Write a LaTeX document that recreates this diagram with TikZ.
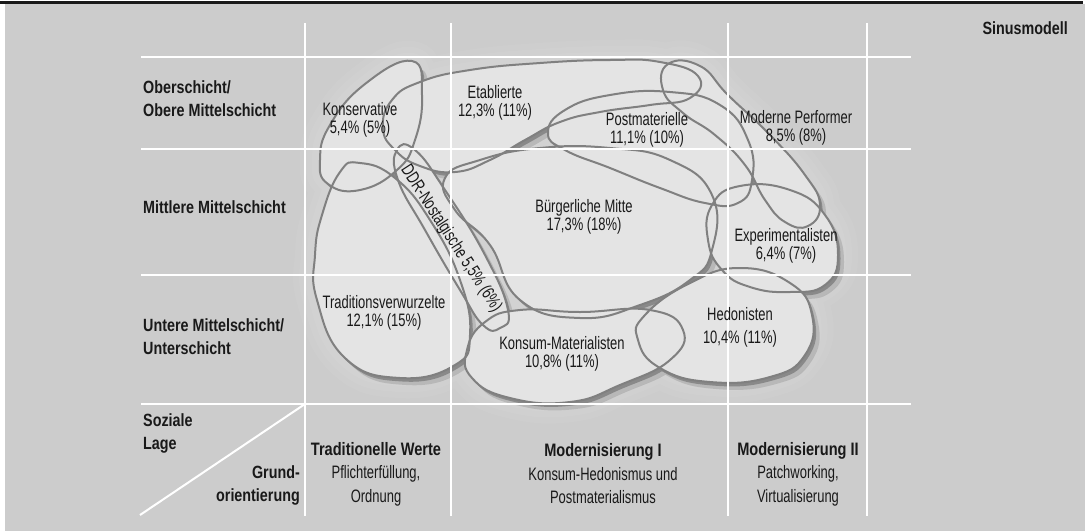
\documentclass[tikz,border=0pt]{standalone}
\usepackage{fontspec}
\setmainfont{Liberation Sans}[FakeStretch=0.72]
\newfontfamily\headfont{Liberation Sans}[FakeStretch=0.81]
\usepackage{xcolor}
\usetikzlibrary{positioning, calc}

\definecolor{bggray}{gray}{0.80}
\definecolor{blobfill}{gray}{0.895}
\definecolor{blobline}{gray}{0.50}
\definecolor{inkgray}{gray}{0.1}

% milieu outlines (pixel coordinates, y downwards)
\newcommand{\shapeKons}{plot[smooth cycle, tension=0.8] coordinates {(412,61) (422,95) (415,140) (397,170) (360,190) (328,184) (320,160) (330,125) (365,84)}}
\newcommand{\shapeEtab}{plot[smooth cycle, tension=0.8] coordinates {(383,128) (392,100) (420,82) (470,70) (540,63) (610,60) (660,62) (698,76) (690,98) (650,105) (600,112) (560,122) (525,140) (490,160) (455,172) (420,166) (395,150)}}
\newcommand{\shapePost}{plot[smooth cycle, tension=0.8] coordinates {(548,133) (565,110) (610,95) (670,92) (720,105) (748,140) (752,180) (738,203) (705,203) (660,188) (610,168) (565,150)}}
\newcommand{\shapePerf}{plot[smooth cycle, tension=0.8] coordinates {(668,64) (700,66) (728,95) (770,135) (805,175) (820,205) (808,226) (785,222) (765,200) (745,165) (715,135) (683,113) (663,90)}}
\newcommand{\shapeBuerg}{plot[smooth cycle, tension=0.8] coordinates {(445,178) (480,160) (540,148) (610,148) (670,160) (712,195) (712,250) (690,280) (640,305) (580,318) (520,300) (490,245) (455,210)}}
\newcommand{\shapeExp}{plot[smooth cycle, tension=0.8] coordinates {(712,205) (740,186) (790,190) (825,215) (838,255) (825,285) (790,292) (750,287) (722,270) (708,240)}}
\newcommand{\shapeHed}{plot[smooth cycle, tension=0.8] coordinates {(645,315) (690,283) (740,268) (790,283) (812,315) (805,355) (770,377) (710,382) (660,368) (638,340)}}
\newcommand{\shapeKonsum}{plot[smooth cycle, tension=0.8] coordinates {(467,350) (485,322) (520,310) (580,312) (650,310) (683,330) (670,360) (620,385) (570,402) (510,398) (472,378)}}
\newcommand{\shapeTrad}{plot[smooth cycle, tension=0.8] coordinates {(322,215) (340,172) (360,163) (395,178) (430,220) (460,280) (470,335) (455,365) (400,378) (345,358) (317,300) (315,255)}}
\newcommand{\shapeDDR}{plot[smooth cycle, tension=0.8] coordinates {(397,150) (415,150) (445,190) (485,255) (508,310) (500,328) (483,325) (460,290) (425,230) (398,180)}}
\newcommand{\allshapes}{\shapeTrad,\shapeKons,\shapeEtab,\shapePost,\shapePerf,\shapeBuerg,\shapeExp,\shapeHed,\shapeKonsum,\shapeDDR}

\begin{document}
\begin{tikzpicture}[x=1pt, y=-1pt,
    grid/.style={white, line width=2pt},
    blob/.style={fill=blobfill},
    rim/.style={draw=blobline, line width=2pt},
    head/.style={font=\headfont\bfseries\fontsize{17.7}{23}\selectfont, text=inkgray, inner sep=0pt, align=left},
    milieu/.style={font=\fontsize{18}{18}\selectfont, text=inkgray, inner sep=0pt, align=center},
    axis/.style={font=\fontsize{18}{23.5}\selectfont, text=inkgray, inner sep=0pt, align=center}]

    \useasboundingbox (0,0) rectangle (1085,531);

    % Background panel with black rule on top
    \fill[white] (0,0) rectangle (1085,531);
    \fill[bggray] (5,4) rectangle (1085,531);
    \fill[black!90] (0,0.5) rectangle (1083,4);

    % Light halo behind the milieus
    \foreach \w in {40,28,16} {
        \begin{scope}[transparency group, opacity=0.05]
            \foreach \s in \allshapes \draw[white, line width=\w pt, line join=round] \s;
        \end{scope}
    }

    % Soft shadows of the milieus
    \begin{scope}[transparency group, opacity=0.12, shift={(6,7)}]
        \foreach \s in \allshapes \fill[black] \s;
    \end{scope}
    \begin{scope}[transparency group, opacity=0.25, shift={(2.5,3.5)}]
        \foreach \s in \allshapes \fill[black] \s;
    \end{scope}

    % Milieu areas, then their outlines
    \foreach \s in \allshapes \fill[blob] \s;
    \foreach \s in \allshapes \draw[rim] \s;

    % Grid
    \foreach \x in {305,451,728,867}
        \draw[grid] (\x,23) -- (\x,516);
    \foreach \y in {57,149,275,404}
        \draw[grid] (141,\y) -- (911,\y);
    \draw[grid] (305,404) -- (140,515);

    % Title
    \node[head, anchor=east] (sinus) at (1068,28) {Sinusmodell};

    % Social position (rows)
    \node[head, anchor=west] (ober) at (143,98.5) {Oberschicht/\\Obere Mittelschicht};
    \node[head, anchor=west] (mitte) at (143,207) {Mittlere Mittelschicht};
    \node[head, anchor=west] (unter) at (143,337) {Untere Mittelschicht/\\Unterschicht};
    \node[head, anchor=west] (lage) at (143,433) {Soziale\\Lage};
    \node[head, anchor=east, align=right] (grund) at (300,485) {Grund-\\orientierung};

    % Basic orientation (columns)
    \node[axis] (tradwerte) at (376,474) {{\headfont\bfseries Traditionelle Werte}\\Pflichterfüllung,\\Ordnung};
    \node[axis] (modI) at (603,474) {{\headfont\bfseries Modernisierung I}\\Konsum-Hedonismus und\\Postmaterialismus};
    \node[axis] (modII) at (798,474) {{\headfont\bfseries Modernisierung II}\\Patchworking,\\Virtualisierung};

    % Milieu labels
    \node[milieu] (kons) at (360,119.5) {Konservative\\5,4\% (5\%)};
    \node[milieu] (etab) at (495,102.5) {Etablierte\\12,3\% (11\%)};
    \node[milieu] (postmat) at (647,130) {Postmaterielle\\11,1\% (10\%)};
    \node[milieu] (perf) at (796,128) {Moderne Performer\\8,5\% (8\%)};
    \node[milieu] (buerg) at (584,217) {Bürgerliche Mitte\\17,3\% (18\%)};
    \node[milieu] (exper) at (786,246) {Experimentalisten\\6,4\% (7\%)};
    \node[milieu] (trad) at (384,312.5) {Traditionsverwurzelte\\12,1\% (15\%)};
    \node[milieu] (konsum) at (562,354) {Konsum-Materialisten\\10,8\% (11\%)};
    \node[milieu, font=\fontsize{18}{23}\selectfont] (hedon) at (740,327.5) {Hedonisten\\10,4\% (11\%)};
    \node[milieu, rotate=-57] (ddr) at (451,239) {DDR-Nostalgische 5,5\% (6\%)};

\end{tikzpicture}
\end{document}
